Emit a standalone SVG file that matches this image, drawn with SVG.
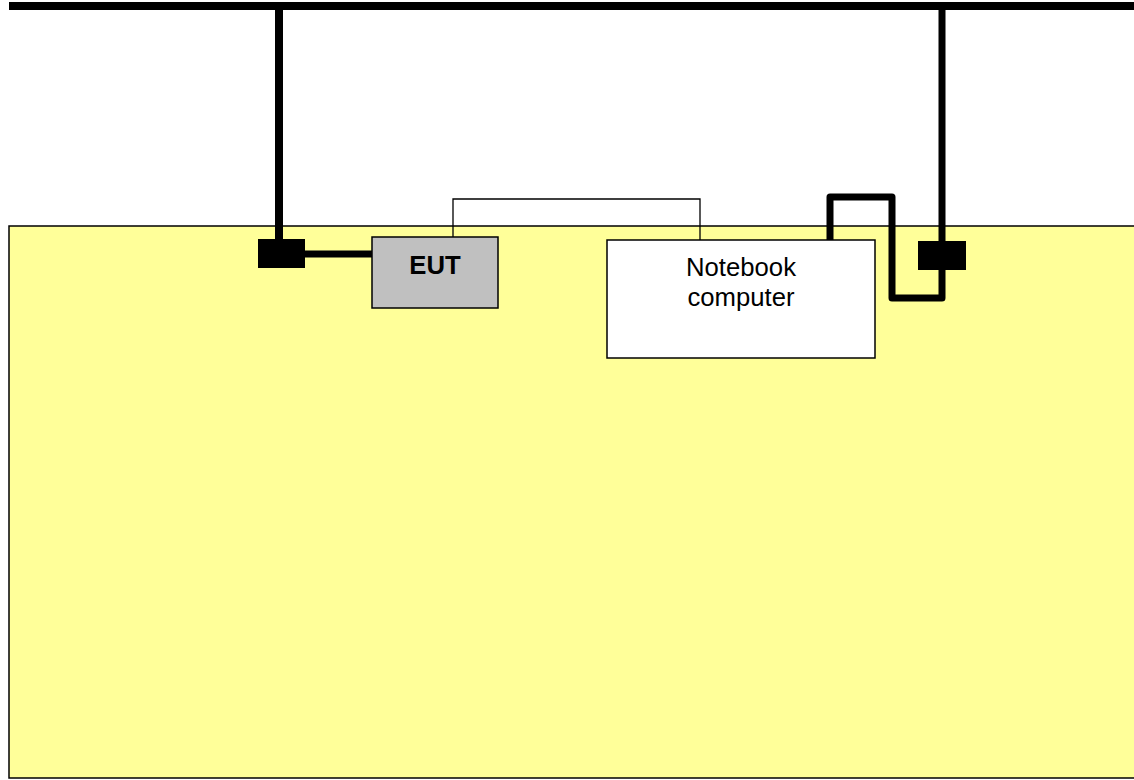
<svg xmlns="http://www.w3.org/2000/svg" width="1134" height="780" viewBox="0 0 1134 780">
<style>
.cable{fill:none;stroke:#000;stroke-width:7;stroke-linejoin:round}
.thin{fill:none;stroke:#000;stroke-width:1.3}
.lbl{font-family:"Liberation Sans",Arial,sans-serif;font-size:25.7px;text-anchor:middle;fill:#000}
</style>
<rect width="1134" height="780" fill="#fff"/>
<g id="table"><rect x="9" y="226" width="1130" height="552" fill="#FFFF99" stroke="#000" stroke-width="1.5"/></g>
<g id="connectors">
<line x1="9" y1="6" x2="1134" y2="6" stroke="#000" stroke-width="8"/>
<line x1="279" y1="6" x2="279" y2="250" stroke="#000" stroke-width="8"/>
<line x1="942" y1="6" x2="942" y2="250" stroke="#000" stroke-width="7"/>
<line x1="300" y1="254" x2="374" y2="254" stroke="#000" stroke-width="7"/>
<polyline class="thin" points="453,237 453,199 700,199 700,240"/>
<polyline class="cable" points="830,240 830,197 892,197 892,298 942,298 942,255"/>
</g>
<g id="lisn1"><rect x="258" y="239" width="47" height="29" fill="#000"/></g>
<g id="lisn2"><rect x="918" y="241" width="48" height="29" fill="#000"/></g>
<g id="eut"><rect x="372" y="237" width="126" height="71" fill="#C0C0C0" stroke="#000" stroke-width="1.5"/>
<text class="lbl" x="435" y="274" font-weight="bold">EUT</text></g>
<g id="notebook"><rect x="607" y="240" width="268" height="118" fill="#fff" stroke="#000" stroke-width="1.5"/>
<text class="lbl" x="741" y="276">Notebook</text>
<text class="lbl" x="741" y="306">computer</text></g>
</svg>
